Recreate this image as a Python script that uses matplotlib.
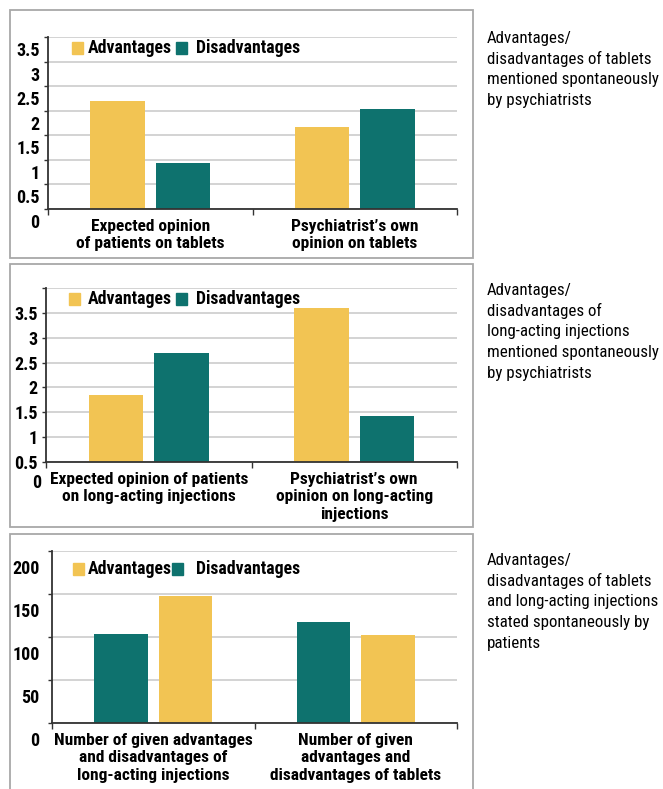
import matplotlib
matplotlib.use("Agg")
import matplotlib.pyplot as plt
from matplotlib.patches import Rectangle
from matplotlib.transforms import ScaledTranslation, blended_transform_factory

plt.rcParams['font.family'] = ['Roboto Condensed', 'Asap Condensed', 'DejaVu Sans']

YELLOW = '#F2C453'
TEAL = '#0E726E'

# panel 1 - tablets, psychiatrists
cats1 = ['Expected opinion\nof patients on tablets', 'Psychiatrist\u2019s own\nopinion on tablets']
adv1 = [2.2, 1.67]
dis1 = [0.94, 2.04]

# panel 2 - long-acting injections, psychiatrists
cats2 = ['Expected opinion of patients\non long-acting injections',
         'Psychiatrist\u2019s own\nopinion on long-acting\ninjections']
adv2 = [1.84, 3.59]
dis2 = [2.69, 1.42]

# panel 3 - patients (counts)
cats3 = ['Number of given advantages\nand disadvantages of\nlong-acting injections',
         'Number of given\nadvantages and\ndisadvantages of tablets']
adv3 = [148, 102]
dis3 = [103, 117]

side1 = ['Advantages/', 'disadvantages of tablets', 'mentioned spontaneously', 'by psychiatrists']
side2 = ['Advantages/', 'disadvantages of', 'long-acting injections', 'mentioned spontaneously',
         'by psychiatrists']
side3 = ['Advantages/', 'disadvantages of tablets', 'and long-acting injections',
         'stated spontaneously by', 'patients']

W, H = 663, 789
FS = 12.5
SFS = 12.2
fig = plt.figure(figsize=(W / 100, H / 100), dpi=100)


def px_axes(l, t, r, b):
    return fig.add_axes([l / W, 1 - b / H, (r - l) / W, (b - t) / H])


def frame(t, b):
    fig.patches.append(Rectangle((10 / W, 1 - b / H), 463 / W, (b - t) / H,
                                 transform=fig.transFigure, fill=False,
                                 edgecolor='#a8a8a8', lw=1.3))


def side_text(lines, y0):
    for i, s in enumerate(lines):
        fig.text(487 / W, 1 - (y0 + i * 20.8) / H, s, fontsize=SFS, va='center')


def setup(ax, yticks, ylabels, cats, ylim, label_drop, ypad=3):
    ax.set_xlim(-0.5, 1.5)
    ax.set_ylim(*ylim)
    for s in ['top', 'right']:
        ax.spines[s].set_visible(False)
    for s in ['left', 'bottom']:
        ax.spines[s].set_color('#333333')
        ax.spines[s].set_linewidth(1.3)
    ax.set_yticks(yticks)
    ax.set_yticklabels(ylabels, fontsize=FS + 0.5, fontweight='bold')
    ax.tick_params(axis='y', length=3, width=1, color='#333333', pad=ypad)
    ax.yaxis.grid(True, color='#cccccc', lw=1.2)
    ax.set_axisbelow(True)
    ax.set_xticks([0, 1])
    ax.set_xticklabels(cats, fontsize=FS, fontweight='bold', linespacing=1.22)
    ax.set_xticks([-0.5, 0.5, 1.5], minor=True)
    ax.tick_params(axis='x', which='major', length=0, pad=7)
    ax.tick_params(axis='x', which='minor', length=4, width=1, color='#333333')
    off = ScaledTranslation(0, -label_drop / 100, fig.dpi_scale_trans)
    for lab in ax.get_yticklabels():
        lab.set_transform(lab.get_transform() + off)


def legend(ax, x1, x3, x4, yc):
    tr = ax.transAxes
    bb = ax.get_position()
    aw, ah = bb.width * W, bb.height * H
    l0 = bb.x0 * W
    t0 = (1 - bb.y1) * H

    def fx(x):
        return (x - l0) / aw

    def fy(y):
        return 1 - (y - t0) / ah
    ax.add_patch(Rectangle((fx(x1), fy(yc + 6)), 11 / aw, 12 / ah, transform=tr,
                           color=YELLOW, clip_on=False))
    ax.text(fx(88), fy(yc), 'Advantages', transform=tr, va='center',
            fontsize=FS + 0.3, fontweight='bold')
    ax.add_patch(Rectangle((fx(x3), fy(yc + 6)), 11 / aw, 12 / ah, transform=tr,
                           color=TEAL, clip_on=False))
    ax.text(fx(x4), fy(yc), 'Disadvantages', transform=tr, va='center',
            fontsize=FS + 0.3, fontweight='bold')


w = 0.265
d = 0.16

# ---- panel 1
frame(10, 258)
ax1 = px_axes(48, 37, 457, 209)
ax1.bar([i - d for i in range(2)], adv1, w, color=YELLOW)
ax1.bar([i + d for i in range(2)], dis1, w, color=TEAL)
setup(ax1, [0, 0.5, 1, 1.5, 2, 2.5, 3, 3.5],
      ['0', '0.5', '1', '1.5', '2', '2.5', '3', '3.5'], cats1, (0, 3.5), 12)
legend(ax1, 72, 176, 196, 48)
side_text(side1, 38)

# ---- panel 2
frame(264, 527)
ax2 = px_axes(46, 288, 457, 462)
ax2.bar([i - d for i in range(2)], adv2, w, color=YELLOW)
ax2.bar([i + d for i in range(2)], dis2, w, color=TEAL)
setup(ax2, [0.5, 1, 1.5, 2, 2.5, 3, 3.5, 4],
      ['0.5', '1', '1.5', '2', '2.5', '3', '3.5', ''], cats2, (0.5, 4.0), 0)
ax2.text(-0.012, 0.5, '0', transform=blended_transform_factory(ax2.transAxes, ax2.transData)
         + ScaledTranslation(0, -0.21, fig.dpi_scale_trans),
         ha='right', va='center', fontsize=FS + 0.5, fontweight='bold')
legend(ax2, 69, 176, 196, 299)
side_text(side2, 290)

# ---- panel 3
frame(534, 800)
ax3 = px_axes(52, 551, 457, 723)
ax3.bar([i - d for i in range(2)], dis3, w, color=TEAL)
ax3.bar([i + d for i in range(2)], adv3, w, color=YELLOW)
setup(ax3, [0, 50, 100, 150, 200], ['0', '50', '100', '150', '200'], cats3, (0, 200), 16, ypad=6)
legend(ax3, 73, 172, 196, 569)
side_text(side3, 560)

fig.savefig('out.png', dpi=100)
